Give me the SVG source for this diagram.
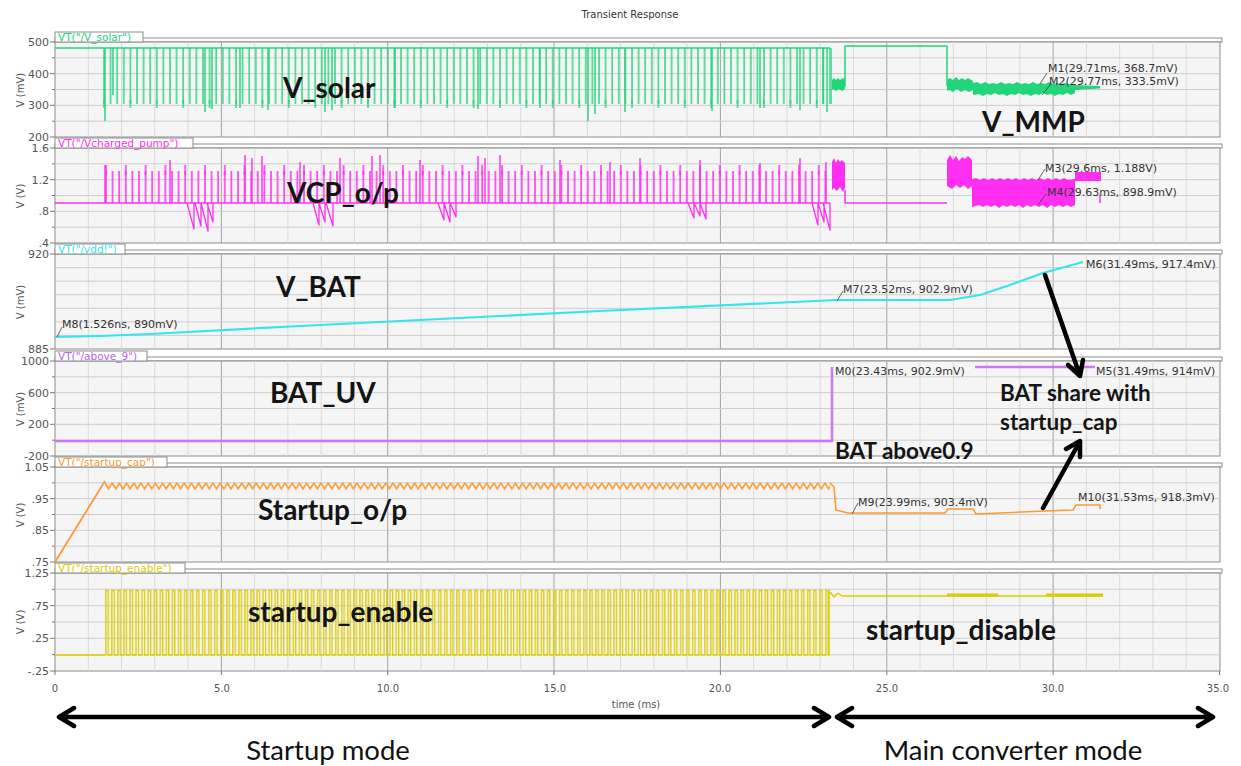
<svg xmlns="http://www.w3.org/2000/svg" xmlns:xlink="http://www.w3.org/1999/xlink" width="1241" height="766" viewBox="0 0 1241 766">
<style>
.tk{font-family:"DejaVu Sans",sans-serif;font-size:11px;fill:#555}
.xt{font-family:"DejaVu Sans",sans-serif;font-size:10px;fill:#555;text-anchor:middle}
.ya{font-family:"DejaVu Sans",sans-serif;font-size:10px;fill:#555;text-anchor:middle}
.mk{font-family:"DejaVu Sans",sans-serif;font-size:11px;fill:#333}
.lg{font-family:"DejaVu Sans",sans-serif;font-size:10.5px}
.big{font-family:Lato,"Open Sans",sans-serif;font-size:28px;font-weight:bold;fill:#141414}
.mid{font-family:Lato,"Open Sans",sans-serif;font-size:22.5px;font-weight:bold;fill:#141414}
.bot{font-family:Lato,"Open Sans",sans-serif;font-size:27.5px;fill:#111}
.bg{fill:#f5f5f5;stroke:#8c8c8c;stroke-width:1}
.hg{stroke:#cdcdcd;stroke-width:1;fill:none}
.vg{stroke:#dadada;stroke-width:1;fill:none}
.vG{stroke:#a4a4a4;stroke-width:1;fill:none}
.strip{fill:#fff;stroke:#8c8c8c;stroke-width:1}
.w{fill:none;stroke-linejoin:round}
.ld{stroke:#444;stroke-width:0.8;fill:none}
.arr{stroke:#000;stroke-width:4.5;fill:none;stroke-linecap:round;stroke-linejoin:round}
.ytk{stroke:#777;stroke-width:1}
</style>
<defs>
<path id="vmin" class="vg" d="M88.3 0V95M121.5 0V95M154.8 0V95M188.1 0V95M254.6 0V95M287.9 0V95M321.2 0V95M354.4 0V95M421 0V95M454.2 0V95M487.5 0V95M520.8 0V95M587.3 0V95M620.6 0V95M653.9 0V95M687.1 0V95M753.7 0V95M786.9 0V95M820.2 0V95M853.5 0V95M920 0V95M953.3 0V95M986.6 0V95M1019.8 0V95M1086.4 0V95M1119.7 0V95M1152.9 0V95M1186.2 0V95"/>
<path id="vmaj" class="vG" d="M221.4 0V95M387.7 0V95M554 0V95M720.4 0V95M886.8 0V95M1053.1 0V95"/>
<path id="hg6" class="hg" d="M55 15.83H1220M55 31.67H1220M55 47.5H1220M55 63.33H1220M55 79.17H1220"/>
<path id="hg7" class="hg" d="M55 13.57H1220M55 27.14H1220M55 40.71H1220M55 54.29H1220M55 67.86H1220M55 81.43H1220"/>
<pattern id="pSolar" patternUnits="userSpaceOnUse" x="103" y="0" width="6.6" height="766"><path d="M1 48V104" stroke="#22d47a" stroke-width="1.4"/></pattern>
<pattern id="pSolar2" patternUnits="userSpaceOnUse" x="103" y="0" width="26.4" height="766"><path d="M1 100V108" stroke="#22d47a" stroke-width="1.4"/></pattern>
<pattern id="pVcp" patternUnits="userSpaceOnUse" x="105" y="0" width="6.6" height="766"><path d="M1 203V171" stroke="#ff2ef0" stroke-width="1.5"/></pattern>
<pattern id="pVcp2" patternUnits="userSpaceOnUse" x="105" y="0" width="19.8" height="766"><path d="M1 175V165" stroke="#ff2ef0" stroke-width="1.5"/></pattern>
<pattern id="pCap" patternUnits="userSpaceOnUse" x="105" y="0" width="7.2" height="766"><path d="M-0.2 482.6L3.6 489L7.4 482.6" stroke="#ff9933" stroke-width="1.6" fill="none"/></pattern>
<pattern id="pEn" patternUnits="userSpaceOnUse" x="105" y="0" width="6.05" height="766"><path d="M-0.1 655H0.8V590.5H3.2V655H6.2" stroke="#dccb00" stroke-width="1.3" fill="none"/></pattern>
</defs>

<text x="630" y="18" font-family="DejaVu Sans,sans-serif" font-size="10" fill="#333" text-anchor="middle">Transient Response</text>

<!-- Panel 1 -->
<g id="panel-vsolar">
<rect class="strip" x="55" y="38" width="1167" height="4"/>
<rect class="bg" x="55" y="42" width="1165" height="95"/>
<use href="#vmin" transform="translate(0,42)"/><use href="#vmaj" transform="translate(0,42)"/><use href="#hg6" transform="translate(0,42)"/>
<rect x="55" y="32" width="88" height="10" fill="#fff" stroke="#8c8c8c"/>
<text class="lg" x="58" y="41" fill="#22d47a">VT("/V_solar")</text>
<path class="ytk" d="M50 42H55M50 73.7H55M50 105.3H55M50 137H55M52 57.8H55M52 89.5H55M52 121.2H55"/>
<text class="tk" x="49" y="46" text-anchor="end">500</text>
<text class="tk" x="49" y="78" text-anchor="end">400</text>
<text class="tk" x="49" y="109" text-anchor="end">300</text>
<text class="tk" x="49" y="141" text-anchor="end">200</text>
<text class="ya" transform="translate(24,90) rotate(-90)">V (mV)</text>
<path class="w" stroke="#22d47a" stroke-width="1.5" d="M55 48H830"/>
<rect x="103" y="46" width="727" height="64" fill="url(#pSolar)"/>
<rect x="103" y="96" width="727" height="14" fill="url(#pSolar2)"/>
<path class="w" stroke="#22d47a" stroke-width="1.4" d="M105 48V121M113 48V95M205 48V112M212 48V109M240 48V108M268 48V110M325 48V112M332 48V110M395 48V108M478 48V109M540 48V108M588 48V121M595 48V114M625 48V112M712 48V111M760 48V108M800 48V110M823 48V104M827 48V112M831 48V104"/>
<path class="w" stroke="#22d47a" stroke-width="1.5" d="M832 86H845V46H947V86"/>
<g fill="#22d47a">
<polygon points="832,80 834,78 836,80 838,78 840,80 843,78 845,80 845,89 842,91 839,89 836,91 833,89 832,90"/>
<polygon points="947,80 950,78 953,80 956,77 959,80 962,78 965,80 968,78 973,81 973,90 969,92 965,90 961,92 957,89 953,92 949,90 947,91"/>
<polygon points="973,83 977,82 981,84 985,82 989,84 993,83 997,84 1001,82 1005,84 1009,83 1013,84 1017,82 1021,84 1025,83 1029,84 1033,82 1037,84 1041,83 1045,84 1049,82 1053,84 1057,83 1061,84 1065,83 1069,84 1075,84 1075,93 1071,95 1067,93 1063,95 1059,94 1055,96 1051,94 1047,95 1043,93 1039,95 1035,94 1031,96 1027,94 1023,95 1019,93 1015,95 1011,94 1007,96 1003,94 999,95 995,93 991,95 987,94 983,96 979,94 973,95"/>
<polygon points="1075,85 1100,86 1100,88.5 1075,90"/>
</g>
<path class="ld" d="M1040 84L1047 73M1042 95L1050 85"/>
<text class="mk" x="1048" y="72">M1(29.71ms, 368.7mV)</text>
<text class="mk" x="1049" y="85">M2(29.77ms, 333.5mV)</text>
<text class="big" x="283" y="98">V_solar</text>
<text class="big" x="982" y="132">V_MMP</text>
</g>

<!-- Panel 2 -->
<g id="panel-vcp">
<rect class="strip" x="55" y="144" width="1167" height="4"/>
<rect class="bg" x="55" y="148" width="1165" height="95"/>
<use href="#vmin" transform="translate(0,148)"/><use href="#vmaj" transform="translate(0,148)"/><use href="#hg6" transform="translate(0,148)"/>
<rect x="55" y="138" width="138" height="10" fill="#fff" stroke="#8c8c8c"/>
<text class="lg" x="58" y="147" fill="#ff2ef0">VT("/Vcharged_pump")</text>
<path class="ytk" d="M50 148H55M50 179.7H55M50 211.3H55M50 243H55M52 163.8H55M52 195.5H55M52 227.2H55"/>
<text class="tk" x="49" y="152" text-anchor="end">1.6</text>
<text class="tk" x="49" y="184" text-anchor="end">1.2</text>
<text class="tk" x="49" y="215" text-anchor="end">.8</text>
<text class="tk" x="49" y="247" text-anchor="end">.4</text>
<text class="ya" transform="translate(24,196) rotate(-90)">V (V)</text>
<path class="w" stroke="#ff2ef0" stroke-width="1.5" d="M55 203H830"/>
<rect x="105" y="160" width="725" height="45" fill="url(#pVcp)"/>
<rect x="105" y="160" width="725" height="20" fill="url(#pVcp2)"/>
<path class="w" stroke="#ff2ef0" stroke-width="1.4" d="M105 203V165M170 203V160M245 203V155M252 203V158M262 203V156M300 203V162M340 203V158M372 203V156M380 203V155M420 203V160M478 203V156M485 203V158M500 203V155M560 203V160M610 203V162M640 203V158M700 203V160M760 203V163M800 203V158M826 203V162"/>
<path class="w" stroke="#ff2ef0" stroke-width="1.3" d="M187 203L194 229V203M195 203L201 226V203M201 203L208 231V203M207 203L213 222V203M313 203L319 225V203M319 203L325 222V203M326 203L333 226V203M438 203L444 220V203M444 203L450 222V203M450 203L456 217V203M688 203L694 218V203M694 203L700 216V203M700 203L706 219V203M812 203L818 225V203M818 203L824 222V203M823 203L830 230V203"/>
<path class="w" stroke="#ff2ef0" stroke-width="1.5" d="M845 190V203H947M1100 195V203"/>
<g fill="#ff2ef0">
<polygon points="832,162 834,158 836,163 838,159 840,162 842,160 845,163 845,188 843,192 840,187 837,191 834,188 832,190"/>
<polygon points="947,160 950,155 953,160 956,156 959,161 962,157 965,159 968,156 972,160 972,186 968,189 964,185 960,188 956,185 952,189 947,186"/>
<polygon points="972,179 976,178 980,180 984,178 988,180 992,178 996,180 1000,178 1004,180 1008,178 1012,180 1016,178 1020,180 1024,178 1028,180 1032,178 1036,180 1040,178 1044,180 1048,178 1052,180 1056,178 1060,180 1064,178 1068,180 1075,179 1075,205 1071,207 1067,205 1063,207 1059,205 1055,207 1051,205 1047,208 1043,205 1039,207 1035,205 1031,207 1027,205 1023,208 1019,205 1015,207 1011,205 1007,207 1003,205 999,208 995,205 991,207 987,205 983,207 979,205 972,207"/>
<polygon points="1075,172 1101,172 1101,181 1075,181"/>
</g>
<path class="ld" d="M1038 180L1045 169M1038 205L1046 194"/>
<text class="mk" x="1045" y="172">M3(29.6ms, 1.188V)</text>
<text class="mk" x="1047" y="196">M4(29.63ms, 898.9mV)</text>
<text class="big" x="287" y="203">VCP_o/p</text>
</g>

<!-- Panel 3 -->
<g id="panel-vbat">
<rect class="strip" x="55" y="250" width="1167" height="4"/>
<rect class="bg" x="55" y="254" width="1165" height="95"/>
<use href="#vmin" transform="translate(0,254)"/><use href="#vmaj" transform="translate(0,254)"/><use href="#hg7" transform="translate(0,254)"/>
<rect x="55" y="244" width="70" height="10" fill="#fff" stroke="#8c8c8c"/>
<text class="lg" x="58" y="253" fill="#33e5ee">VT("/vdd!")</text>
<path class="ytk" d="M50 254H55M50 349H55"/>
<text class="tk" x="49" y="258" text-anchor="end">920</text>
<text class="tk" x="49" y="353" text-anchor="end">885</text>
<text class="ya" transform="translate(24,302) rotate(-90)">V (mV)</text>
<polyline class="w" stroke="#33e5ee" stroke-width="2.2" points="55,337 100,336 150,334 300,326 420,320 600,311 837,300 923,300 950,300 980,295 1010,285 1043,273 1083,262"/>
<path class="ld" d="M57 337L62 327M837 301L843 291"/>
<text class="mk" x="62" y="328">M8(1.526ns, 890mV)</text>
<text class="mk" x="843" y="293">M7(23.52ms, 902.9mV)</text>
<text class="mk" x="1086" y="268">M6(31.49ms, 917.4mV)</text>
<text class="big" x="276" y="297">V_BAT</text>
</g>

<!-- Panel 4 -->
<g id="panel-batuv">
<rect class="strip" x="55" y="357" width="1167" height="4"/>
<rect class="bg" x="55" y="361" width="1165" height="95"/>
<use href="#vmin" transform="translate(0,361)"/><use href="#vmaj" transform="translate(0,361)"/><use href="#hg6" transform="translate(0,361)"/>
<rect x="55" y="351" width="92" height="10" fill="#fff" stroke="#8c8c8c"/>
<text class="lg" x="58" y="360" fill="#b966e8">VT("/above_9")</text>
<path class="ytk" d="M50 361H55M50 392.7H55M50 424.3H55M50 456H55M52 376.8H55M52 408.5H55M52 440.2H55"/>
<text class="tk" x="49" y="365" text-anchor="end">1000</text>
<text class="tk" x="49" y="397" text-anchor="end">600</text>
<text class="tk" x="49" y="428" text-anchor="end">200</text>
<text class="tk" x="49" y="460" text-anchor="end">-200</text>
<text class="ya" transform="translate(24,409) rotate(-90)">V (mV)</text>
<path class="w" stroke="#cc77ee" stroke-width="2.5" d="M55 441H832V367M975 367H1095"/>
<text class="mk" x="835" y="375">M0(23.43ms, 902.9mV)</text>
<text class="mk" x="1096" y="375">M5(31.49ms, 914mV)</text>
<text class="big" x="270" y="403">BAT_UV</text>
<text class="mid" x="835" y="459" font-size="22">BAT above0.9</text>
<text class="mid" x="1000" y="401">BAT share with</text>
<text class="mid" x="1000" y="430">startup_cap</text>
</g>

<!-- Panel 5 -->
<g id="panel-startup">
<rect class="strip" x="55" y="463" width="1167" height="4"/>
<rect class="bg" x="55" y="467" width="1165" height="95"/>
<use href="#vmin" transform="translate(0,467)"/><use href="#vmaj" transform="translate(0,467)"/><use href="#hg6" transform="translate(0,467)"/>
<rect x="55" y="457" width="112" height="10" fill="#fff" stroke="#8c8c8c"/>
<text class="lg" x="58" y="466" fill="#ff9933">VT("/startup_cap")</text>
<path class="ytk" d="M50 467H55M50 498.7H55M50 530.3H55M50 562H55M52 482.8H55M52 514.5H55M52 546.2H55"/>
<text class="tk" x="49" y="471" text-anchor="end">1.05</text>
<text class="tk" x="49" y="503" text-anchor="end">.95</text>
<text class="tk" x="49" y="534" text-anchor="end">.85</text>
<text class="tk" x="49" y="566" text-anchor="end">.75</text>
<text class="ya" transform="translate(24,515) rotate(-90)">V (V)</text>
<path class="w" stroke="#ff9933" stroke-width="1.8" d="M55 562L105 481"/>
<rect x="105" y="478" width="725" height="14" fill="url(#pCap)"/>
<path class="w" stroke="#ff9933" stroke-width="1.6" d="M830 483L834 487L836 510L848 513L945 513L948 509L973 509L976 514L1000 513L1045 511L1073 510L1076 505L1100 505L1100 509"/>
<path class="ld" d="M852 514L858 503"/>
<text class="mk" x="858" y="506">M9(23.99ms, 903.4mV)</text>
<text class="mk" x="1078" y="501">M10(31.53ms, 918.3mV)</text>
<text class="big" x="258" y="520">Startup_o/p</text>
</g>

<!-- Panel 6 -->
<g id="panel-enable">
<rect class="strip" x="55" y="569" width="1167" height="4"/>
<rect class="bg" x="55" y="573" width="1165" height="98"/>
<g transform="translate(0,573) scale(1,1.0316)"><use href="#vmin"/><use href="#vmaj"/><use href="#hg6"/></g>
<rect x="55" y="563" width="130" height="10" fill="#fff" stroke="#8c8c8c"/>
<text class="lg" x="58" y="572" fill="#dccb00">VT("/startup_enable")</text>
<path class="ytk" d="M50 573H55M50 605.7H55M50 638.3H55M50 671H55M52 589.3H55M52 622H55M52 654.7H55"/>
<text class="tk" x="49" y="577" text-anchor="end">1.25</text>
<text class="tk" x="49" y="610" text-anchor="end">.75</text>
<text class="tk" x="49" y="642" text-anchor="end">.25</text>
<text class="tk" x="49" y="675" text-anchor="end">-.25</text>
<text class="ya" transform="translate(24,622) rotate(-90)">V (V)</text>
<path class="w" stroke="#dccb00" stroke-width="1.5" d="M55 655H105"/>
<rect x="105" y="587" width="725" height="71" fill="url(#pEn)"/>
<path class="w" stroke="#dccb00" stroke-width="1.5" d="M829 655V590M830 592L834 597L838 593L842 596H1103"/>
<path class="w" stroke="#dccb00" stroke-width="3" d="M947 595H998M1046 595H1103"/>
<text class="big" x="248" y="622">startup_enable</text>
<text class="big" x="866" y="640">startup_disable</text>
</g>

<!-- x axis -->
<g id="xaxis">
<path class="ytk" d="M55 671V675M221.4 671V675M387.7 671V675M554 671V675M720.4 671V675M886.8 671V675M1053.1 671V675M1219.5 671V675"/>
<text class="xt" x="55" y="692">0</text>
<text class="xt" x="222" y="692">5.0</text>
<text class="xt" x="388" y="692">10.0</text>
<text class="xt" x="555" y="692">15.0</text>
<text class="xt" x="720" y="692">20.0</text>
<text class="xt" x="887" y="692">25.0</text>
<text class="xt" x="1053" y="692">30.0</text>
<text class="xt" x="1218" y="692">35.0</text>
<text class="xt" x="636" y="708" font-size="9">time (ms)</text>
</g>

<!-- connectors -->
<g id="connectors">
<path class="arr" d="M1045 275L1079 373M1083 360L1080 376L1068 365"/>
<path class="arr" d="M1043 508L1079 443M1066 449L1080 441L1080 457"/>
<path class="arr" d="M60 717H828M74 708L59 717L74 726M814 708L829 717L814 726"/>
<path class="arr" d="M838 717H1212M852 708L837 717L852 726M1198 708L1213 717L1198 726"/>
</g>
<text class="bot" x="328" y="760" text-anchor="middle">Startup mode</text>
<text class="bot" x="1013" y="760" text-anchor="middle">Main converter mode</text>
</svg>
